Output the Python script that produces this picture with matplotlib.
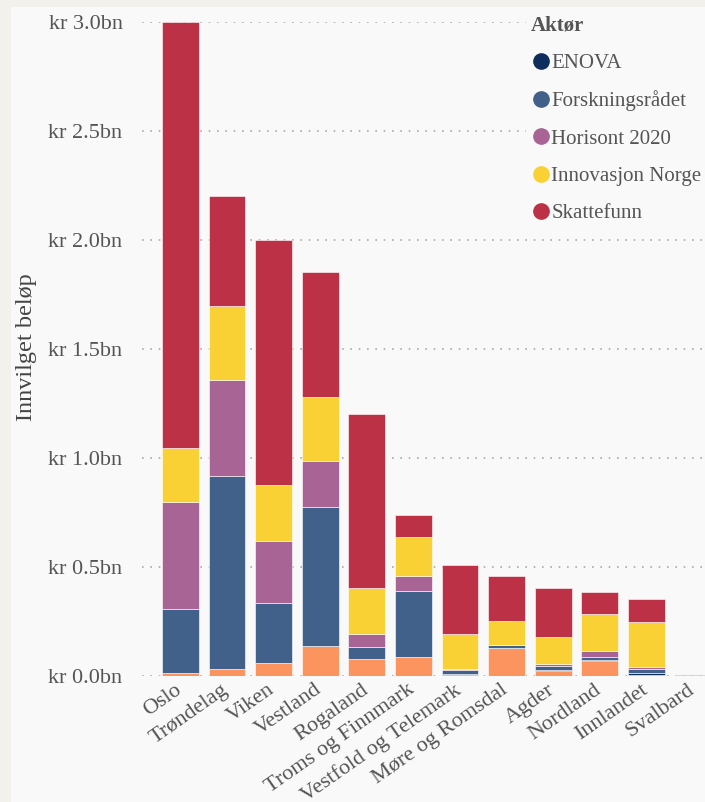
import numpy as np
import matplotlib
matplotlib.use("Agg")
import matplotlib.pyplot as plt
from matplotlib.patches import Rectangle
from matplotlib.lines import Line2D
from matplotlib.transforms import ScaledTranslation

plt.rcParams['font.family'] = ['Liberation Serif', 'DejaVu Serif']

# data (bn kr)
fylker = ["Oslo", "Trøndelag", "Viken", "Vestland", "Rogaland", "Troms og Finnmark",
          "Vestfold og Telemark", "Møre og Romsdal", "Agder", "Nordland", "Innlandet", "Svalbard"]
andre = [0.012, 0.030, 0.060, 0.138, 0.078, 0.087, 0.004, 0.128, 0.022, 0.069, 0.004, 0.002]
enova = [0.0, 0.0, 0.0, 0.0, 0.0, 0.0, 0.006, 0.0, 0.006, 0.004, 0.008, 0.0]
forskning = [0.295, 0.887, 0.275, 0.637, 0.055, 0.303, 0.016, 0.012, 0.020, 0.014, 0.018, 0.0]
horisont = [0.490, 0.440, 0.285, 0.211, 0.060, 0.069, 0.008, 0.002, 0.008, 0.028, 0.012, 0.0]
innovasjon = [0.250, 0.340, 0.255, 0.294, 0.211, 0.179, 0.160, 0.110, 0.124, 0.169, 0.207, 0.0]
skattefunn = [1.953, 0.503, 1.125, 0.575, 0.796, 0.100, 0.317, 0.207, 0.225, 0.101, 0.105, 0.003]

serier = ["ENOVA", "Forskningsrådet", "Horisont 2020", "Innovasjon Norge", "Skattefunn"]
farger = ["#0d2d5c", "#41608a", "#a76495", "#f9d135", "#bd3146"]
orange = "#fc9460"

fig = plt.figure(figsize=(7.05, 8.02), dpi=100, facecolor="#f2f1ec")
fig.patches.append(Rectangle((11 / 705, 0), 1, 1 - 7 / 802, transform=fig.transFigure,
                             facecolor="#faf9f9", edgecolor="none", zorder=-10))

# plot area in pixels: left 142, right 705, 0 at y=676, 3.0 at y=22
ax = fig.add_axes([142 / 705, 1 - 676 / 802, 1 - 142 / 705, (676 - 22) / 802])
ax.set_facecolor("none")

x = np.arange(len(fylker))
bunn = np.zeros(len(fylker))
alle = [andre, enova, forskning, horisont, innovasjon, skattefunn]
alle_farger = [orange] + farger
for verdier, farge in zip(alle, alle_farger):
    v = np.array(verdier)
    ax.bar(x, v, 0.79, bottom=bunn, color=farge, edgecolor="#ffffff", linewidth=0.4, zorder=2)
    bunn += v

ax.set_xlim(-(180.4 - 142) / 46.6, (705 - 180.4) / 46.6)
ax.set_ylim(0, 3.0)
yt = [0, 0.5, 1.0, 1.5, 2.0, 2.5, 3.0]
ax.set_yticks(yt)
ax.set_yticklabels(["kr %.1fbn" % t for t in yt], fontsize=16, color="#555555")
ax.grid(axis="y", linestyle=(0, (1, 4)), color="#aaaaaa", linewidth=1.2, zorder=1)
ax.set_axisbelow(True)
for s in ax.spines.values():
    s.set_visible(False)
ax.tick_params(axis="y", length=0, pad=14)

ax.set_xticks(x)
ax.set_xticklabels(fylker, rotation=35, ha="right", rotation_mode="anchor",
                   fontsize=16, color="#555555")
ax.tick_params(axis="x", length=0, pad=3)
skift = ScaledTranslation(-6 / 100, 0, fig.dpi_scale_trans)
for lab in ax.get_xticklabels():
    lab.set_transform(lab.get_transform() + skift)

fig.text(27 / 705, 1 - 347 / 802, "Innvilget beløp", rotation=90, fontsize=17.5,
         color="#444444", ha="center", va="center")

handles = [Line2D([], [], marker="o", linestyle="none", markersize=11, color=c) for c in farger]
leg = ax.legend(handles, serier, title="Aktør", loc="upper left",
                bbox_to_anchor=(516 / 705, 1 - 1 / 802), bbox_transform=fig.transFigure,
                frameon=True, fontsize=15, title_fontsize=15, labelspacing=0.85,
                handletextpad=0.0, handlelength=1.0, borderpad=0.2, alignment="left")
leg.get_frame().set_facecolor("#faf9f9")
leg.get_frame().set_edgecolor("none")
leg.get_frame().set_alpha(1)
leg.get_title().set_fontweight("bold")
leg.get_title().set_color("#555555")
for t in leg.get_texts():
    t.set_color("#555555")

fig.savefig("out.png", dpi=100, facecolor=fig.get_facecolor())
